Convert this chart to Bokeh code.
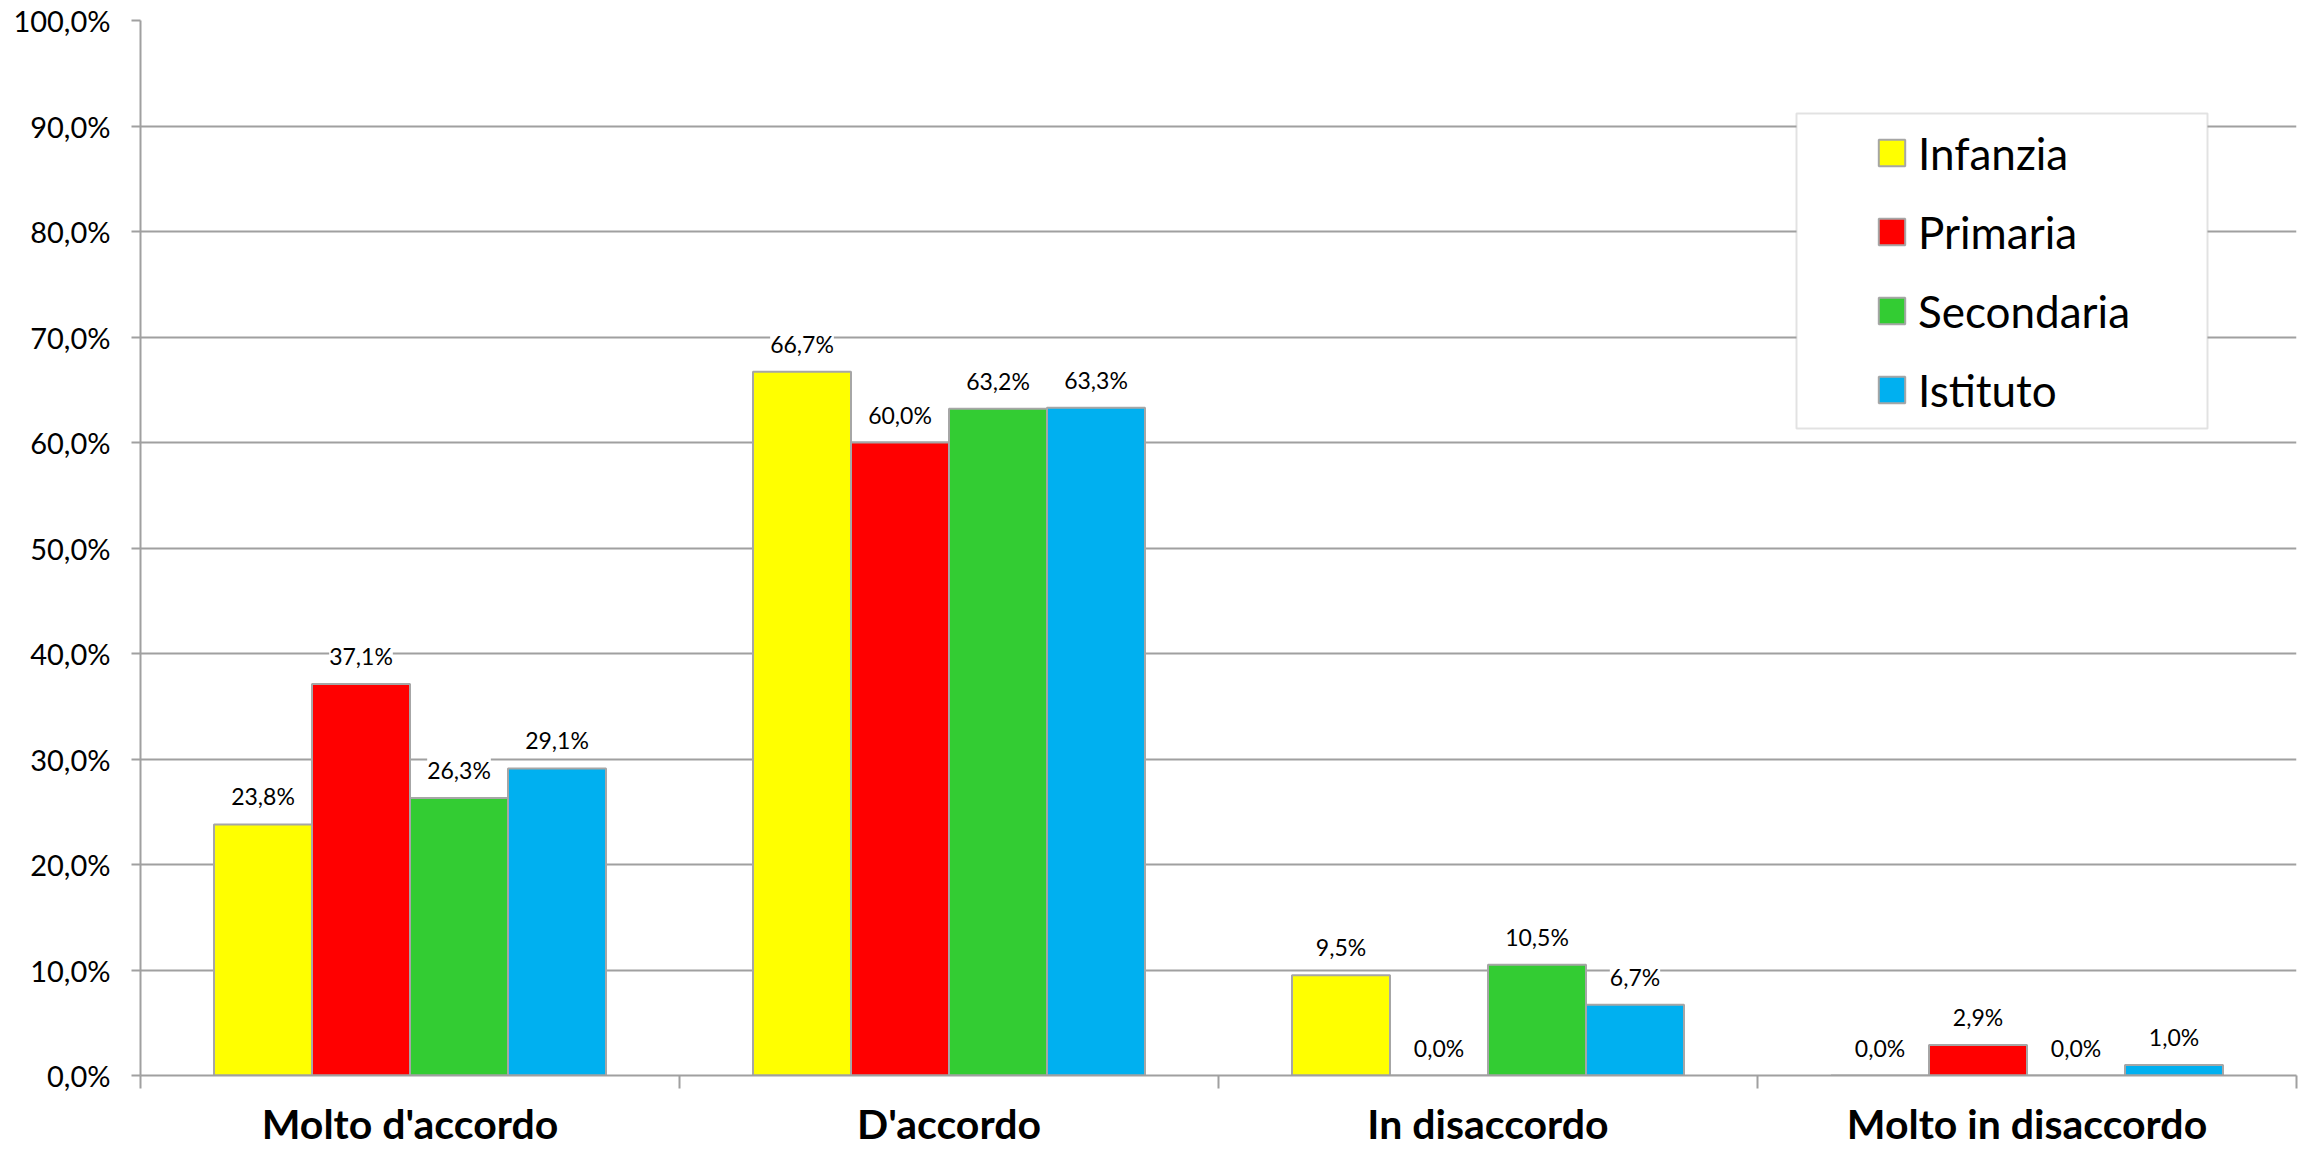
from bokeh.plotting import figure
from bokeh.models import (ColumnDataSource, Range1d, FixedTicker, CustomJSTickFormatter,
                          LabelSet, Legend, LegendItem, BoxAnnotation)
from bokeh.core.properties import value
from bokeh.transform import dodge
from bokeh.embed import file_html
from bokeh.resources import INLINE

# ---- data ----
categories = ["Molto d'accordo", "D'accordo", "In disaccordo", "Molto in disaccordo"]
series_names = ["Infanzia", "Primaria", "Secondaria", "Istituto"]
infanzia = [23.8, 66.7, 9.5, 0.0]
primaria = [37.1, 60.0, 0.0, 2.9]
secondaria = [26.3, 63.2, 10.5, 0.0]
istituto = [29.1, 63.3, 6.7, 1.0]
y_ticks = [0, 10, 20, 30, 40, 50, 60, 70, 80, 90, 100]

series_values = [infanzia, primaria, secondaria, istituto]
colors = ["#FFFF00", "#FF0000", "#33CC33", "#00B0F0"]
GRAY = "#A0A0A0"
FONT = "Lato"


def pct(v):
    return f"{v:.1f}".replace(".", ",") + "%"


centers = [i + 0.5 for i in range(len(categories))]
data = dict(x=centers)
for name, vals in zip(series_names, series_values):
    data[name] = vals
    data[name + "_lbl"] = [pct(v) for v in vals]
source = ColumnDataSource(data)

p = figure(width=2313, height=1150,
           x_range=Range1d(0, len(categories)), y_range=Range1d(0, 100),
           output_backend="svg", toolbar_location=None,
           min_border_left=140, min_border_right=17, min_border_top=20, min_border_bottom=75)
p.outline_line_color = None
p.background_fill_color = "white"
p.border_fill_color = "white"

# grid
p.xgrid.visible = False
p.ygrid.ticker = FixedTicker(ticks=y_ticks)
p.ygrid.grid_line_color = GRAY
p.ygrid.grid_line_width = 2

# y axis
p.yaxis.ticker = FixedTicker(ticks=y_ticks)
p.yaxis.major_label_overrides = {t: pct(t) for t in y_ticks}
p.yaxis.axis_line_color = GRAY
p.yaxis.axis_line_width = 2
p.yaxis.major_tick_line_color = GRAY
p.yaxis.major_tick_line_width = 2
p.yaxis.major_tick_out = 9
p.yaxis.major_tick_in = 0
p.yaxis.minor_tick_line_color = None
p.yaxis.major_label_text_font = FONT
p.yaxis.major_label_text_font_size = "29px"
p.yaxis.major_label_text_color = "black"
p.yaxis.major_label_standoff = 21

# x axis
p.xaxis.ticker = FixedTicker(ticks=centers, minor_ticks=list(range(len(categories) + 1)))
p.xaxis.formatter = CustomJSTickFormatter(args=dict(cats=categories),
                                          code="return cats[Math.floor(tick)];")
p.xaxis.axis_line_color = GRAY
p.xaxis.axis_line_width = 2
p.xaxis.major_tick_line_color = None
p.xaxis.major_tick_out = 0
p.xaxis.major_tick_in = 0
p.xaxis.minor_tick_line_color = GRAY
p.xaxis.minor_tick_line_width = 2
p.xaxis.minor_tick_out = 13
p.xaxis.minor_tick_in = 0
p.xaxis.major_label_text_font = FONT
p.xaxis.major_label_text_font_style = "bold"
p.xaxis.major_label_text_font_size = "41px"
p.xaxis.major_label_text_color = "black"
p.xaxis.major_label_standoff = 10

# bars
n = len(series_names)
bar_w = 1.0 / (n + 1.5)
items = []
for j, (name, col) in enumerate(zip(series_names, colors)):
    off = (j - (n - 1) / 2) * bar_w
    r = p.vbar(x=dodge("x", off), top=name, width=bar_w, source=source,
               fill_color=col, line_color="#A6A6A6", line_width=2)
    items.append(LegendItem(label=name, renderers=[r]))
    labels = LabelSet(x=dodge("x", off), y=name, text=name + "_lbl", source=source,
                      y_offset=19, text_align="center", text_baseline="alphabetic",
                      text_font=value(FONT), text_font_size=value("23px"),
                      text_color="black", background_fill_color="white")
    p.add_layout(labels)

# legend frame (screen units relative to the plot frame)
legend_box = BoxAnnotation(left=1656, right=2067, top=962, bottom=647,
                           left_units="screen", right_units="screen",
                           top_units="screen", bottom_units="screen",
                           fill_color="white", fill_alpha=1,
                           line_color=GRAY, line_width=2)
p.add_layout(legend_box)

legend = Legend(items=items, location=(1735, 658), orientation="vertical",
                padding=0, spacing=24, label_height=55,
                glyph_height=33, glyph_width=33, label_standoff=10,
                label_text_font=FONT, label_text_font_size="44px", label_text_color="black",
                border_line_color=None, background_fill_alpha=0)
p.add_layout(legend)

open("out.html", "w").write(file_html(p, INLINE))
